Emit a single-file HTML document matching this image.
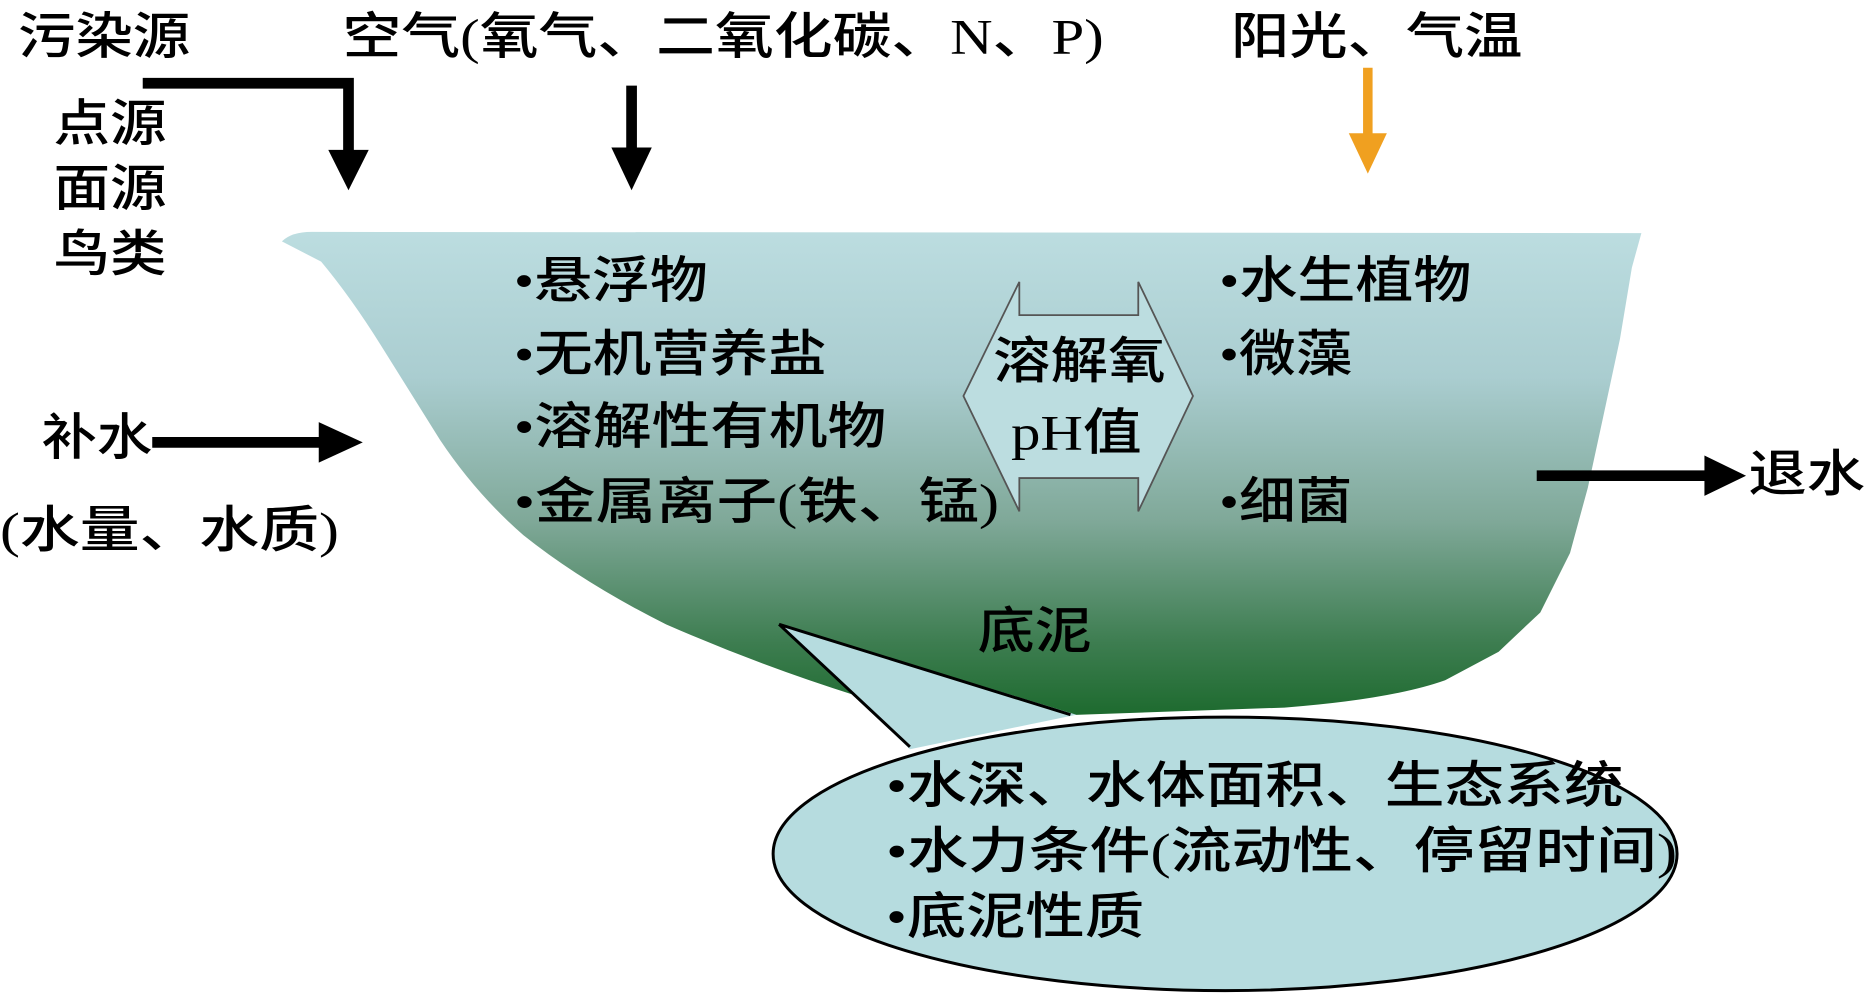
<!DOCTYPE html>
<html><head><meta charset="utf-8"><style>
html,body{margin:0;padding:0;background:#fff;overflow:hidden}
svg{display:block}
text{font-family:"Liberation Serif","Noto Sans CJK SC",sans-serif;font-size:42px;fill:#000;font-weight:500}
</style></head><body>
<svg width="1865" height="993" viewBox="0 0 1568 835" preserveAspectRatio="none" xmlns="http://www.w3.org/2000/svg">
<defs>
<linearGradient id="g" x1="0" y1="0" x2="0" y2="1">
<stop offset="0" stop-color="#bcdde0"/>
<stop offset="0.3" stop-color="#aacdd0"/>
<stop offset="0.6" stop-color="#7fa898"/>
<stop offset="0.85" stop-color="#3d7d50"/>
<stop offset="1" stop-color="#1d6a2e"/>
</linearGradient>
</defs>
<!-- basin -->
<path d="M237,203 Q245,195 262,195 L1380,196 L1372,225 L1362,285 L1348,350 L1335,410 L1320,465 L1295,515 L1260,548 L1215,572 Q1170,588 1080,595 L880,602 Q790,600 720,585 Q640,560 560,525 Q490,490 440,450 Q400,415 370,370 Q345,330 320,290 Q295,250 270,220 Z" fill="url(#g)"/>
<!-- double arrow -->
<polygon points="810,333 857,237 857,265 957,265 957,237 1003,333 957,430 957,402 857,402 857,430" fill="#bcdde0" stroke="#555" stroke-width="1.5"/>
<!-- callout -->
<ellipse cx="1030" cy="718" rx="380" ry="115" fill="#b6dcdf" stroke="#000" stroke-width="2.5"/>
<path d="M655,525 L905,601 L765,630 Z" fill="#b6dcdf"/>
<path d="M655,525 L900,601 M655,525 L765,628" stroke="#000" stroke-width="2.5" fill="none"/>
<!-- arrows -->
<polyline points="120,70 293,70 293,130" fill="none" stroke="#000" stroke-width="9"/>
<polygon points="276,126 310,126 293,160" fill="#000"/>
<line x1="531" y1="72" x2="531" y2="128" stroke="#000" stroke-width="9"/>
<polygon points="514,124 548,124 531,160" fill="#000"/>
<line x1="1150" y1="57" x2="1150" y2="115" stroke="#f0a020" stroke-width="8"/>
<polygon points="1134,112 1166,112 1150,146" fill="#f0a020"/>
<line x1="128" y1="372" x2="272" y2="372" stroke="#000" stroke-width="9"/>
<polygon points="268,355 268,389 305,372" fill="#000"/>
<line x1="1292" y1="400" x2="1437" y2="400" stroke="#000" stroke-width="9"/>
<polygon points="1433,383 1433,417 1468,400" fill="#000"/>
<!-- text -->
<text x="15" y="45" textLength="145" lengthAdjust="spacingAndGlyphs">污染源</text>
<text x="288" y="45" textLength="640" lengthAdjust="spacingAndGlyphs">空气(氧气、二氧化碳、N、P)</text>
<text x="1035" y="45" textLength="245" lengthAdjust="spacingAndGlyphs">阳光、气温</text>
<text x="45" y="118" textLength="95" lengthAdjust="spacingAndGlyphs">点源</text>
<text x="45" y="173" textLength="95" lengthAdjust="spacingAndGlyphs">面源</text>
<text x="45" y="228" textLength="95" lengthAdjust="spacingAndGlyphs">鸟类</text>
<text x="432" y="250" textLength="163" lengthAdjust="spacingAndGlyphs">•悬浮物</text>
<text x="432" y="312" textLength="263" lengthAdjust="spacingAndGlyphs">•无机营养盐</text>
<text x="432" y="373" textLength="313" lengthAdjust="spacingAndGlyphs">•溶解性有机物</text>
<text x="432" y="436" textLength="408" lengthAdjust="spacingAndGlyphs">•金属离子(铁、锰)</text>
<text x="835" y="318" textLength="145" lengthAdjust="spacingAndGlyphs">溶解氧</text>
<text x="850" y="378" textLength="110" lengthAdjust="spacingAndGlyphs">pH值</text>
<text x="1025" y="250" textLength="212" lengthAdjust="spacingAndGlyphs">•水生植物</text>
<text x="1025" y="312" textLength="112" lengthAdjust="spacingAndGlyphs">•微藻</text>
<text x="1025" y="436" textLength="112" lengthAdjust="spacingAndGlyphs">•细菌</text>
<text x="35" y="382" textLength="93" lengthAdjust="spacingAndGlyphs">补水</text>
<text x="0" y="460" textLength="285" lengthAdjust="spacingAndGlyphs">(水量、水质)</text>
<text x="1470" y="413" textLength="98" lengthAdjust="spacingAndGlyphs">退水</text>
<text x="822" y="545" textLength="96" lengthAdjust="spacingAndGlyphs">底泥</text>
<text x="745" y="675" textLength="620" lengthAdjust="spacingAndGlyphs">•水深、水体面积、生态系统</text>
<text x="745" y="730" textLength="665" lengthAdjust="spacingAndGlyphs">•水力条件(流动性、停留时间)</text>
<text x="745" y="785" textLength="217" lengthAdjust="spacingAndGlyphs">•底泥性质</text>
</svg>
</body></html>
